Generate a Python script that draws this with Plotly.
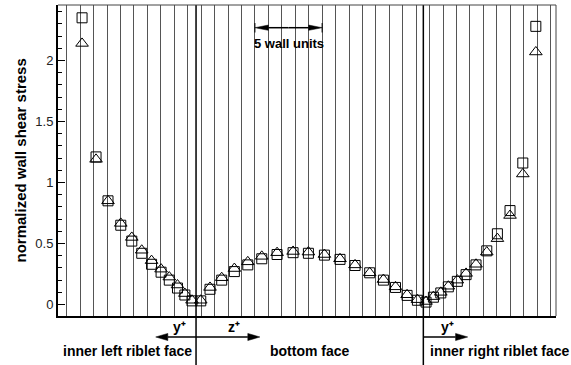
import plotly.graph_objects as go

# Positions along the riblet contour, in wall units (grid lines every wall unit)
pos_left = [1.14, 2.18, 3.07, 4.02, 4.84, 5.58, 6.31, 7.02, 7.63, 8.24, 8.79, 9.32]
pos_bottom = [9.97, 10.66, 11.53, 12.47, 13.47, 14.51, 15.65, 16.84, 17.98, 19.17,
              20.33, 21.45, 22.54, 23.56, 24.46, 25.32, 26.09]
pos_right = [26.73, 27.28, 27.83, 28.39, 29.06, 29.71, 30.45, 31.25, 32.04, 32.98,
             33.93, 34.90]

# Normalized wall shear stress, case 1 (squares)
tau_sq_left = [2.35, 1.21, 0.85, 0.65, 0.52, 0.42, 0.33, 0.265, 0.20, 0.135, 0.078, 0.03]
tau_sq_bottom = [0.03, 0.125, 0.20, 0.27, 0.325, 0.375, 0.41, 0.425, 0.42, 0.405,
                 0.37, 0.32, 0.26, 0.20, 0.14, 0.075, 0.035]
tau_sq_right = [0.02, 0.06, 0.095, 0.145, 0.19, 0.245, 0.325, 0.44, 0.58, 0.77, 1.16, 2.28]

# Normalized wall shear stress, case 2 (triangles)
tau_tr_left = [2.14, 1.19, 0.85, 0.665, 0.55, 0.445, 0.36, 0.29, 0.225, 0.16, 0.09, 0.035]
tau_tr_bottom = [0.035, 0.14, 0.22, 0.295, 0.35, 0.395, 0.425, 0.435, 0.43, 0.41,
                 0.375, 0.325, 0.26, 0.205, 0.145, 0.08, 0.04]
tau_tr_right = [0.025, 0.065, 0.10, 0.15, 0.20, 0.255, 0.33, 0.43, 0.54, 0.73, 1.07, 2.07]

# Riblet corners (left face / bottom face / right face), in wall units
corner_left = 9.62
corner_right = 26.53

y_ticks = [0, 0.5, 1, 1.5, 2]
y_tick_labels = ["0", "0.5", "1", "1.5", "2"]

x_range = [-0.65, 36.40]
y_range = [-0.094, 2.455]

pos = pos_left + pos_bottom + pos_right
tau_sq = tau_sq_left + tau_sq_bottom + tau_sq_right
tau_tr = tau_tr_left + tau_tr_bottom + tau_tr_right

FONT = "Liberation Sans, Arial, Helvetica, sans-serif"

fig = go.Figure()
fig.add_trace(go.Scatter(
    x=pos, y=tau_sq, mode="markers", showlegend=False,
    marker=dict(symbol="square-open", size=10, color="black", line=dict(width=1)),
))
fig.add_trace(go.Scatter(
    x=pos, y=tau_tr, mode="markers", showlegend=False,
    marker=dict(symbol="triangle-up-open", size=11, color="black", line=dict(width=1)),
))


def to_paper_x(u):
    return (u - x_range[0]) / (x_range[1] - x_range[0])


shapes = []
# face dividers, running from the top of the frame down through the label band
for c in (corner_left, corner_right):
    shapes.append(dict(type="line", xref="paper", yref="paper",
                       x0=to_paper_x(c), x1=to_paper_x(c), y0=-0.158, y1=1,
                       line=dict(color="black", width=1.5)))
# thin top and right frame lines
shapes.append(dict(type="line", xref="paper", yref="paper", x0=0, x1=1, y0=1, y1=1,
                   line=dict(color="#444", width=1)))
shapes.append(dict(type="line", xref="paper", yref="paper", x0=1, x1=1, y0=0, y1=1,
                   line=dict(color="#444", width=1)))


def arrow_shapes(tail, tip, y, head_len, half_w, width=1.5):
    """Shaft plus a filled head pointing from tail to tip (x in wall units, y in paper)."""
    d = 1 if tip > tail else -1
    base = tip - d * head_len
    return [
        dict(type="line", xref="x", yref="paper", x0=tail, x1=base, y0=y, y1=y,
             line=dict(color="black", width=width)),
        dict(type="path", xref="x", yref="paper",
             path=f"M {tip},{y} L {base},{y + half_w} L {base},{y - half_w} Z",
             fillcolor="black", line=dict(color="black", width=0.5)),
    ]


arrow_y = -0.0675
shapes += arrow_shapes(corner_left, corner_left - 3.0, arrow_y, 0.9, 0.0115)
shapes += arrow_shapes(corner_left, corner_left + 4.75, arrow_y, 0.9, 0.0115)
shapes += arrow_shapes(corner_right, corner_right + 3.3, arrow_y, 0.9, 0.0115)

# scale arrow of five wall units, with end bars
scale_start, scale_end = 14, 19
scale_mid = (scale_start + scale_end) / 2
scale_y = 0.927
shapes += arrow_shapes(scale_mid, scale_start, scale_y, 1.0, 0.0085)
shapes += arrow_shapes(scale_mid, scale_end, scale_y, 1.0, 0.0085)
for c in (scale_start, scale_end):
    shapes.append(dict(type="line", xref="x", yref="paper", x0=c, x1=c,
                       y0=0.9116, y1=0.942, line=dict(color="black", width=1)))

lbl_font = dict(family=FONT, size=14, color="black")
annotations = [
    dict(x=corner_left, y=-0.034, xref="x", yref="paper", xshift=-8, xanchor="right",
         yanchor="middle", text="<b>y⁺</b>", showarrow=False, font=lbl_font),
    dict(x=corner_left, y=-0.034, xref="x", yref="paper", xshift=30, xanchor="left",
         yanchor="middle", text="<b>z⁺</b>", showarrow=False, font=lbl_font),
    dict(x=corner_right, y=-0.034, xref="x", yref="paper", xshift=16, xanchor="left",
         yanchor="middle", text="<b>y⁺</b>", showarrow=False, font=lbl_font),
    dict(x=(x_range[0] + corner_left) / 2, y=-0.1125, xref="x", yref="paper",
         xanchor="center", yanchor="middle", text="<b>inner left riblet face</b>",
         showarrow=False, font=lbl_font),
    dict(x=(corner_left + corner_right) / 2, y=-0.1125, xref="x", yref="paper",
         xanchor="center", yanchor="middle", text="<b>bottom face</b>",
         showarrow=False, font=lbl_font),
    dict(x=corner_right, y=-0.1125, xref="x", yref="paper", xshift=5,
         xanchor="left", yanchor="middle", text="<b>inner right riblet face</b>",
         showarrow=False, font=lbl_font),
    dict(x=scale_mid, y=0.877, xref="x", yref="paper",
         xanchor="center", yanchor="middle", text="<b>5 wall units</b>",
         showarrow=False, font=dict(family=FONT, size=13, color="black")),
    dict(x=-0.0743, y=0.5, xref="paper", yref="paper", textangle=-90,
         xanchor="center", yanchor="middle", text="<b>normalized wall shear stress</b>",
         showarrow=False, font=dict(family=FONT, size=15, color="black")),
]

fig.update_layout(
    width=571, height=365, autosize=False,
    margin=dict(l=58, r=15, t=5, b=49, pad=0),
    paper_bgcolor="white", plot_bgcolor="white",
    shapes=shapes, annotations=annotations,
    xaxis=dict(range=x_range, showgrid=True, gridcolor="#555", gridwidth=1,
               tick0=0, dtick=1, showticklabels=False, ticks="", zeroline=False,
               showline=True, linecolor="black", linewidth=2),
    yaxis=dict(range=y_range, showgrid=False, zeroline=False,
               tickmode="array", tickvals=y_ticks, ticktext=y_tick_labels,
               ticks="inside", ticklen=7, tickwidth=1, tickcolor="black",
               minor=dict(dtick=0.1, ticks="inside", ticklen=4, tickwidth=1,
                          tickcolor="black", showgrid=False),
               tickfont=dict(family=FONT, size=13, color="#222"),
               showline=True, linecolor="black", linewidth=2),
)

fig.write_html("out.html")
